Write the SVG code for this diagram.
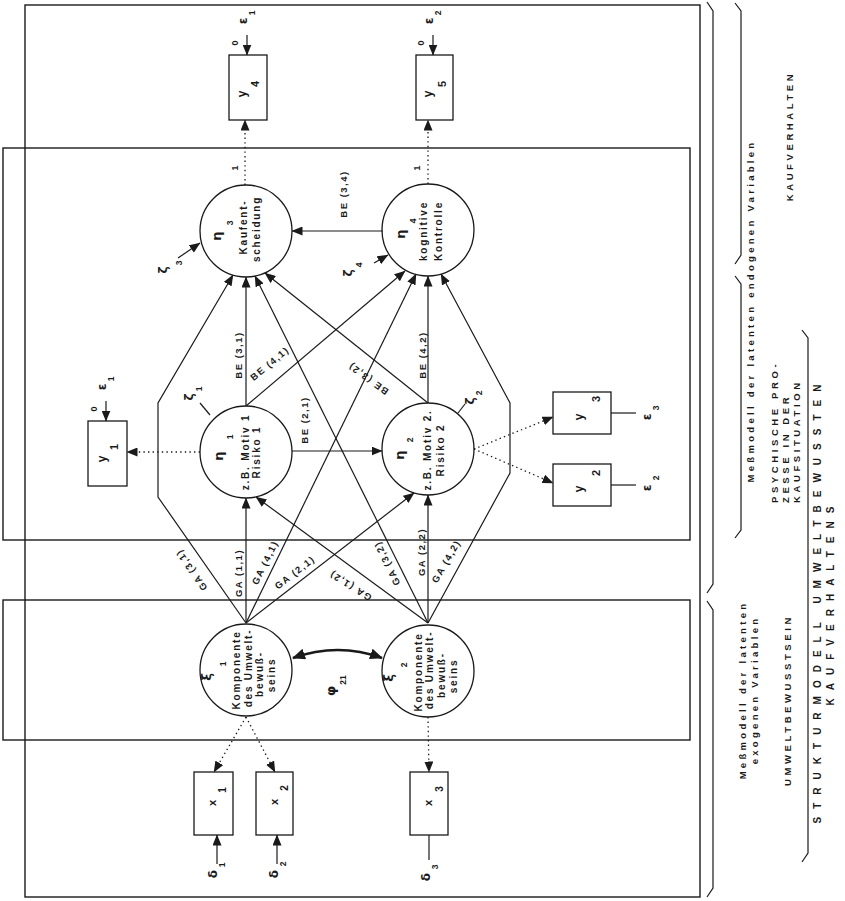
<svg xmlns="http://www.w3.org/2000/svg" width="845" height="901" viewBox="0 0 845 901">
<defs>
<style>
.fr{fill:none;stroke:#1a1a1a;stroke-width:1.4}
.bx{fill:#fff;stroke:#1a1a1a;stroke-width:1.3}
.nd{fill:#fff;stroke:#1a1a1a;stroke-width:1.3}
.c{fill:none;stroke:#1a1a1a;stroke-width:1.2}
.ca{fill:none;stroke:#1a1a1a;stroke-width:1.2;marker-end:url(#ah)}
.d{fill:none;stroke:#1a1a1a;stroke-width:1.3;stroke-dasharray:1.4 3.2;marker-end:url(#ah)}
.phi{fill:none;stroke:#1a1a1a;stroke-width:2.6;marker-start:url(#ah2);marker-end:url(#ah2)}
.t{font-family:"Liberation Sans",Arial,sans-serif;font-weight:bold;fill:#1a1a1a}
.n{font-size:10px;letter-spacing:1.8px}
.lb{font-size:9.5px;letter-spacing:1.5px}
.gk{font-family:"DejaVu Sans",sans-serif;font-weight:bold;font-size:13px;fill:#1a1a1a}
.g12{font-size:12px}
.sb{font-size:8.5px}
.bl{font-size:12px}
.b11{font-size:11px}
.b10{font-size:10px}
.sm{font-size:9px}
.rt{font-size:9.5px;letter-spacing:3.3px}
.rc{font-size:9.5px;letter-spacing:3.6px}
.rs{font-size:10px;letter-spacing:8px}
</style>
<marker id="ah" markerUnits="userSpaceOnUse" markerWidth="11" markerHeight="9" refX="10.5" refY="4.5" orient="auto"><path d="M0,0 L11,4.5 L0,9 z" fill="#1a1a1a"/></marker>
<marker id="ah2" markerUnits="userSpaceOnUse" markerWidth="13" markerHeight="11" refX="12" refY="5.5" orient="auto-start-reverse"><path d="M0,0 L13,5.5 L0,11 z" fill="#1a1a1a"/></marker>
</defs>
<rect width="845" height="901" fill="#fff"/>

<g id="frames">
<rect class="fr" x="25" y="5" width="675" height="892"/>
<rect class="fr" x="3" y="148" width="687" height="392"/>
<rect class="fr" x="3" y="600" width="687" height="140"/>
</g>

<g id="braces">
<path class="c" d="M707,2 L713,11 L713,584 L707,593"/>
<path class="c" d="M707,601 L713,610 L713,888 L707,897"/>
<path class="c" d="M735,3 L741,11 L741,255 L735,264"/>
<path class="c" d="M735,276 L741,284 L741,530 L735,538"/>
<path class="c" d="M802,330 L808,338 L808,853 L802,862"/>
</g>

<g id="side-labels">
<g transform="translate(754,311) rotate(-90)"><text class="t rt" text-anchor="middle">Meßmodell der latenten endogenen Variablen</text></g>
<g transform="translate(746,690) rotate(-90)"><text class="t rt" text-anchor="middle">Meßmodell der latenten</text></g>
<g transform="translate(758,690) rotate(-90)"><text class="t rt" text-anchor="middle">exogenen Variablen</text></g>
<g transform="translate(791,700) rotate(-90)"><text class="t rc" text-anchor="middle">UMWELTBEWUSSTSEIN</text></g>
<g transform="translate(778,503) rotate(-90)"><text class="t rc">PSYCHISCHE PRO-</text></g>
<g transform="translate(789,503) rotate(-90)"><text class="t rc">ZESSE IN DER</text></g>
<g transform="translate(800,503) rotate(-90)"><text class="t rc">KAUFSITUATION</text></g>
<g transform="translate(793,136) rotate(-90)"><text class="t rc" text-anchor="middle">KAUFVERHALTEN</text></g>
<g transform="translate(821,600) rotate(-90)"><text class="t rs" text-anchor="middle">STRUKTURMODELL UMWELTBEWUSSTEN</text></g>
<g transform="translate(834,602) rotate(-90)"><text class="t rs" text-anchor="middle">KAUFVERHALTENS</text></g>
</g>

<g id="eta3">
<circle class="nd" cx="246" cy="231" r="46"/>
<g transform="translate(221,236) rotate(-90)"><text class="gk" text-anchor="middle">η</text></g>
<g transform="translate(233,223) rotate(-90)"><text class="t sb" text-anchor="middle">3</text></g>
<g transform="translate(247,227) rotate(-90)"><text class="t n" text-anchor="middle">Kaufent-</text></g>
<g transform="translate(260,229) rotate(-90)"><text class="t n" text-anchor="middle">scheidung</text></g>
</g>
<g id="eta4">
<circle class="nd" cx="428" cy="230" r="46"/>
<g transform="translate(405,234) rotate(-90)"><text class="gk" text-anchor="middle">η</text></g>
<g transform="translate(416,221) rotate(-90)"><text class="t sb" text-anchor="middle">4</text></g>
<g transform="translate(427,231) rotate(-90)"><text class="t n" text-anchor="middle">kognitive</text></g>
<g transform="translate(442,231) rotate(-90)"><text class="t n" text-anchor="middle">Kontrolle</text></g>
</g>
<g id="eta1">
<circle class="nd" cx="246" cy="452" r="46"/>
<g transform="translate(223,456) rotate(-90)"><text class="gk" text-anchor="middle">η</text></g>
<g transform="translate(233,437) rotate(-90)"><text class="t sb" text-anchor="middle">1</text></g>
<g transform="translate(249,452) rotate(-90)"><text class="t n" text-anchor="middle">z.B. Motiv 1</text></g>
<g transform="translate(260,452) rotate(-90)"><text class="t n" text-anchor="middle">Risiko 1</text></g>
</g>
<g id="eta2">
<circle class="nd" cx="428" cy="449" r="46"/>
<g transform="translate(404,455) rotate(-90)"><text class="gk" text-anchor="middle">η</text></g>
<g transform="translate(413,440) rotate(-90)"><text class="t sb" text-anchor="middle">2</text></g>
<g transform="translate(431,450) rotate(-90)"><text class="t n" text-anchor="middle">z.B. Motiv 2.</text></g>
<g transform="translate(444,450) rotate(-90)"><text class="t n" text-anchor="middle">Risiko 2</text></g>
</g>
<g id="xi1">
<circle class="nd" cx="246" cy="670" r="46"/>
<g transform="translate(211,677) rotate(-90)"><text class="gk" text-anchor="middle">ξ</text></g>
<g transform="translate(226,664) rotate(-90)"><text class="t sb" text-anchor="middle">1</text></g>
<g transform="translate(240,670) rotate(-90)"><text class="t n" text-anchor="middle">Komponente</text></g>
<g transform="translate(252,668) rotate(-90)"><text class="t n" text-anchor="middle">des Umwelt-</text></g>
<g transform="translate(263,674) rotate(-90)"><text class="t n" text-anchor="middle">bewuß-</text></g>
<g transform="translate(275,675) rotate(-90)"><text class="t n" text-anchor="middle">seins</text></g>
</g>
<g id="xi2">
<circle class="nd" cx="428" cy="671" r="46"/>
<g transform="translate(393,678) rotate(-90)"><text class="gk" text-anchor="middle">ξ</text></g>
<g transform="translate(407,665) rotate(-90)"><text class="t sb" text-anchor="middle">2</text></g>
<g transform="translate(422,672) rotate(-90)"><text class="t n" text-anchor="middle">Komponente</text></g>
<g transform="translate(433,670) rotate(-90)"><text class="t n" text-anchor="middle">des Umwelt-</text></g>
<g transform="translate(445,675) rotate(-90)"><text class="t n" text-anchor="middle">bewuß-</text></g>
<g transform="translate(457,676) rotate(-90)"><text class="t n" text-anchor="middle">seins</text></g>
</g>

<g id="y4">
<rect class="bx" x="229" y="55" width="38" height="65"/>
<g transform="translate(246,94) rotate(-90)"><text class="t bl" text-anchor="middle">y</text></g>
<g transform="translate(259,84) rotate(-90)"><text class="t b11" text-anchor="middle">4</text></g>
</g>
<g id="y5">
<rect class="bx" x="416" y="55" width="37" height="65"/>
<g transform="translate(432,94) rotate(-90)"><text class="t bl" text-anchor="middle">y</text></g>
<g transform="translate(446,84) rotate(-90)"><text class="t b11" text-anchor="middle">5</text></g>
</g>
<g id="y1">
<rect class="bx" x="88" y="421" width="39" height="65"/>
<g transform="translate(106,459) rotate(-90)"><text class="t bl" text-anchor="middle">y</text></g>
<g transform="translate(118,447) rotate(-90)"><text class="t b11" text-anchor="middle">1</text></g>
</g>
<g id="y3">
<rect class="bx" x="553" y="392" width="58" height="42"/>
<g transform="translate(583,417) rotate(-90)"><text class="t bl" text-anchor="middle">y</text></g>
<g transform="translate(600,399) rotate(-90)"><text class="t b11" text-anchor="middle">3</text></g>
</g>
<g id="y2">
<rect class="bx" x="553" y="464" width="58" height="42"/>
<g transform="translate(583,489) rotate(-90)"><text class="t bl" text-anchor="middle">y</text></g>
<g transform="translate(600,473) rotate(-90)"><text class="t b11" text-anchor="middle">2</text></g>
</g>
<g id="x1">
<rect class="bx" x="194" y="772" width="39" height="63"/>
<g transform="translate(216,803) rotate(-90)"><text class="t b11" text-anchor="middle">x</text></g>
<g transform="translate(226,790) rotate(-90)"><text class="t b10" text-anchor="middle">1</text></g>
</g>
<g id="x2">
<rect class="bx" x="256" y="772" width="37" height="63"/>
<g transform="translate(278,802) rotate(-90)"><text class="t b11" text-anchor="middle">x</text></g>
<g transform="translate(288,788) rotate(-90)"><text class="t b10" text-anchor="middle">2</text></g>
</g>
<g id="x3">
<rect class="bx" x="410" y="772" width="38" height="63"/>
<g transform="translate(432,803) rotate(-90)"><text class="t b11" text-anchor="middle">x</text></g>
<g transform="translate(443,789) rotate(-90)"><text class="t b10" text-anchor="middle">3</text></g>
</g>

<g id="connectors">
<path class="ca" d="M383,231 L292,231"/>
<path class="ca" d="M292,451 L382,451"/>
<path class="ca" d="M246,406 L246,277"/>
<path class="ca" d="M246,406 L405,271"/>
<path class="ca" d="M428,403 L428,276"/>
<path class="ca" d="M428,403 L265,273"/>
<path class="ca" d="M246,623 L246,498"/>
<path class="ca" d="M246,623 L414,493"/>
<path class="ca" d="M246,623 L416,274"/>
<path class="ca" d="M246,623 L158,497 L158,403 L233,275"/>
<path class="ca" d="M428,623 L256,497"/>
<path class="ca" d="M428,623 L428,495"/>
<path class="ca" d="M428,623 L255,276"/>
<path class="ca" d="M428,623 L510,473 L510,403 L441,274"/>
<path class="ca" d="M178,258 L200,243"/>
<path class="ca" d="M374,263 L388,255"/>
<path class="ca" d="M217,864 L217,835"/>
<path class="ca" d="M277,864 L277,835"/>
<path class="ca" d="M247,35 L247,55"/>
<path class="ca" d="M433,35 L433,55"/>
<path class="ca" d="M106,401 L106,421"/>
<path class="c" d="M200,403 L210,415"/>
<path class="c" d="M458,413 L465,404"/>
<path class="c" d="M611,413 L636,413"/>
<path class="c" d="M611,485 L636,485"/>
<path class="c" d="M429,835 L429,860"/>
<path class="d" d="M245,185 L245,120"/>
<path class="d" d="M428,184 L428,120"/>
<path class="d" d="M200,452 L127,452"/>
<path class="d" d="M474,449 L553,417"/>
<path class="d" d="M474,449 L553,483"/>
<path class="d" d="M246,717 L214,772"/>
<path class="d" d="M246,717 L275,772"/>
<path class="d" d="M428,717 L429,772"/>
<path class="phi" d="M293,658 Q338,642 382,658"/>
</g>

<g id="edge-labels">
<g transform="translate(347,194) rotate(-90)"><text class="t lb" text-anchor="middle">BE (3,4)</text></g>
<g transform="translate(308,420) rotate(-90)"><text class="t lb" text-anchor="middle">BE (2,1)</text></g>
<g transform="translate(242,355) rotate(-90)"><text class="t lb" text-anchor="middle">BE (3,1)</text></g>
<g transform="translate(272,366) rotate(-40)"><text class="t lb" text-anchor="middle">BE (4,1)</text></g>
<g transform="translate(426,355) rotate(-90)"><text class="t lb" text-anchor="middle">BE (4,2)</text></g>
<g transform="translate(370,376) rotate(216)"><text class="t lb" text-anchor="middle">BE (3,2)</text></g>
<g transform="translate(242,573) rotate(-90)"><text class="t lb" text-anchor="middle">GA (1,1)</text></g>
<g transform="translate(268,564) rotate(-64)"><text class="t lb" text-anchor="middle">GA (4,1)</text></g>
<g transform="translate(297,575) rotate(-38)"><text class="t lb" text-anchor="middle">GA (2,1)</text></g>
<g transform="translate(194,568) rotate(235)"><text class="t lb" text-anchor="middle">GA (3,1)</text></g>
<g transform="translate(352,583) rotate(212)"><text class="t lb" text-anchor="middle">GA (1,2)</text></g>
<g transform="translate(425,552) rotate(-90)"><text class="t lb" text-anchor="middle">GA (2,2)</text></g>
<g transform="translate(390,562) rotate(244)"><text class="t lb" text-anchor="middle">GA (3,2)</text></g>
<g transform="translate(449,563) rotate(-60)"><text class="t lb" text-anchor="middle">GA (4,2)</text></g>
<g transform="translate(238,168) rotate(-90)"><text class="t sm" text-anchor="middle">1</text></g>
<g transform="translate(420,168) rotate(-90)"><text class="t sm" text-anchor="middle">1</text></g>
<g transform="translate(335,691) rotate(-90)"><text class="gk" text-anchor="middle">φ</text></g>
<g transform="translate(346,680) rotate(-90)"><text class="t sb" text-anchor="middle">21</text></g>
</g>

<g id="error-labels">
<g transform="translate(247,21) rotate(-90)"><text class="gk g12" text-anchor="middle">ε</text></g>
<g transform="translate(255,13) rotate(-90)"><text class="t sb" text-anchor="middle">1</text></g>
<g transform="translate(238,43) rotate(-90)"><text class="t sm" text-anchor="middle">0</text></g>
<g transform="translate(433,21) rotate(-90)"><text class="gk g12" text-anchor="middle">ε</text></g>
<g transform="translate(441,13) rotate(-90)"><text class="t sb" text-anchor="middle">2</text></g>
<g transform="translate(424,43) rotate(-90)"><text class="t sm" text-anchor="middle">0</text></g>
<g transform="translate(106,387) rotate(-90)"><text class="gk g12" text-anchor="middle">ε</text></g>
<g transform="translate(114,379) rotate(-90)"><text class="t sb" text-anchor="middle">1</text></g>
<g transform="translate(97,409) rotate(-90)"><text class="t sm" text-anchor="middle">0</text></g>
<g transform="translate(651,417) rotate(-90)"><text class="gk g12" text-anchor="middle">ε</text></g>
<g transform="translate(659,408) rotate(-90)"><text class="t sb" text-anchor="middle">3</text></g>
<g transform="translate(651,488) rotate(-90)"><text class="gk g12" text-anchor="middle">ε</text></g>
<g transform="translate(659,478) rotate(-90)"><text class="t sb" text-anchor="middle">2</text></g>
<g transform="translate(217,874) rotate(-90)"><text class="gk g12" text-anchor="middle">δ</text></g>
<g transform="translate(225,865) rotate(-90)"><text class="t sb" text-anchor="middle">1</text></g>
<g transform="translate(278,874) rotate(-90)"><text class="gk g12" text-anchor="middle">δ</text></g>
<g transform="translate(286,864) rotate(-90)"><text class="t sb" text-anchor="middle">2</text></g>
<g transform="translate(430,877) rotate(-90)"><text class="gk g12" text-anchor="middle">δ</text></g>
<g transform="translate(438,867) rotate(-90)"><text class="t sb" text-anchor="middle">3</text></g>
<g transform="translate(167,270) rotate(-90)"><text class="gk g12" text-anchor="middle">ζ</text></g>
<g transform="translate(182,263) rotate(-90)"><text class="t sb" text-anchor="middle">3</text></g>
<g transform="translate(352,273) rotate(-90)"><text class="gk g12" text-anchor="middle">ζ</text></g>
<g transform="translate(362,265) rotate(-90)"><text class="t sb" text-anchor="middle">4</text></g>
<g transform="translate(193,397) rotate(-90)"><text class="gk g12" text-anchor="middle">ζ</text></g>
<g transform="translate(202,389) rotate(-90)"><text class="t sb" text-anchor="middle">1</text></g>
<g transform="translate(474,401) rotate(-90)"><text class="gk g12" text-anchor="middle">ζ</text></g>
<g transform="translate(482,393) rotate(-90)"><text class="t sb" text-anchor="middle">2</text></g>
</g>
</svg>
